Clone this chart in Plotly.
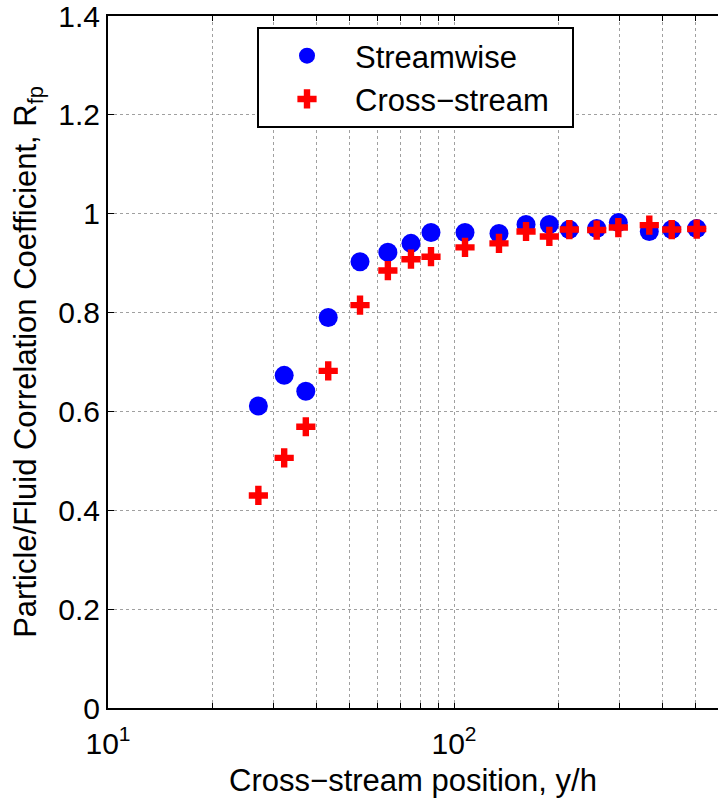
import plotly.graph_objects as go

# Data
y_over_h = [27.2, 32.3, 37.3, 43.3, 53.5, 64.4, 75.1, 85.8, 107.6, 134.9,
            161.5, 188.6, 215.4, 258.5, 298.5, 366.8, 425.8, 502.9]
streamwise = [0.611, 0.673, 0.641, 0.790, 0.903, 0.922, 0.940, 0.962, 0.962, 0.960,
              0.978, 0.978, 0.968, 0.970, 0.982, 0.964, 0.968, 0.970]
cross_stream = [0.430, 0.506, 0.569, 0.682, 0.815, 0.885, 0.908, 0.913, 0.932, 0.940,
                0.964, 0.954, 0.968, 0.967, 0.972, 0.977, 0.968, 0.969]

x_major = [10, 100, 1000]
x_major_text = ["10<sup>1</sup>", "10<sup>2</sup>", "10<sup>3</sup>"]
x_minor = [20, 30, 40, 50, 60, 70, 80, 90, 200, 300, 400, 500, 600, 700, 800, 900]
y_ticks = [0, 0.2, 0.4, 0.6, 0.8, 1.0, 1.2, 1.4]
y_tick_text = ["0", "0.2", "0.4", "0.6", "0.8", "1", "1.2", "1.4"]

FONT = "Liberation Sans, Arial, Helvetica, sans-serif"
PAD = "\u00a0\u00a0"

fig = go.Figure()
fig.add_trace(go.Scatter(
    x=y_over_h, y=streamwise, mode="markers", name="Streamwise" + PAD,
    marker=dict(symbol="circle", size=19, color="#0000ff", line=dict(width=0)),
))
fig.add_trace(go.Scatter(
    x=y_over_h, y=cross_stream, mode="markers", name="Cross\u2212stream" + PAD,
    marker=dict(symbol="cross", size=16, color="#ff0000", line=dict(width=0)),
))

grid = dict(gridcolor="#a0a0a0", griddash="dot", gridwidth=1)

fig.update_layout(
    width=718, height=798,
    margin=dict(l=108, r=0, t=16, b=90),
    paper_bgcolor="white", plot_bgcolor="white",
    font=dict(family=FONT, size=30, color="black"),
    showlegend=True,
    legend=dict(
        x=(257 - 108) / 610, y=1 - (27 - 16) / 692, xanchor="left", yanchor="top",
        bgcolor="white", bordercolor="black", borderwidth=2,
        font=dict(size=31), itemwidth=86, tracegroupgap=0,
    ),
    xaxis=dict(
        type="log", range=[1, 1 + 610 / 346], automargin=False,
        tickvals=x_major, ticktext=x_major_text,
        ticks="inside", ticklen=5, tickwidth=1, tickcolor="black",
        ticklabelstandoff=8, ticklabeloverflow="allow",
        showline=True, linecolor="black", linewidth=2, mirror="ticks",
        showgrid=True, **grid,
        minor=dict(tickvals=x_minor, ticks="inside", ticklen=5, tickcolor="black",
                   showgrid=True, **grid),
        tickfont=dict(size=30),
        title=dict(text="Cross\u2212stream position, y/h", font=dict(size=31), standoff=10),
        zeroline=False,
    ),
    yaxis=dict(
        range=[0, 1.4], tickvals=y_ticks, ticktext=y_tick_text, automargin=False,
        ticks="inside", ticklen=6, tickwidth=1, tickcolor="black",
        ticklabeloverflow="allow",
        showline=True, linecolor="black", linewidth=2, mirror=False,
        showgrid=True, **grid,
        tickfont=dict(size=30),
        title=dict(text="Particle/Fluid Correlation Coefficient, R<sub>fp</sub>",
                   font=dict(size=31), standoff=12),
        zeroline=False,
    ),
)

fig.write_html("out.html", config={"displayModeBar": False},
               post_script="document.body.style.margin='0';")
